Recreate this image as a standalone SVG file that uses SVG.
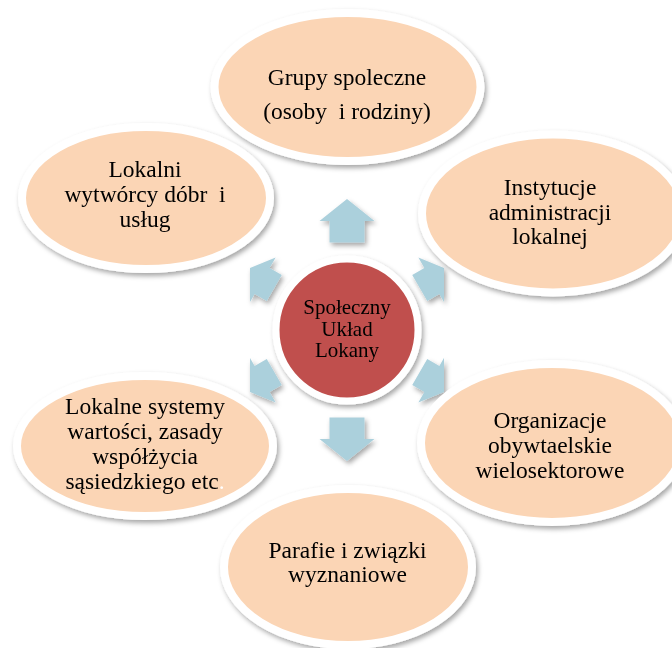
<svg xmlns="http://www.w3.org/2000/svg" width="672" height="648" viewBox="0 0 672 648">
<defs>
<filter id="sh" x="-20%" y="-20%" width="140%" height="140%">
<feDropShadow dx="2" dy="3" stdDeviation="2.5" flood-color="#000" flood-opacity="0.35"/>
</filter>
<path id="arrS" d="M-15,-84 L15,-84 L15,-98 L27,-98 L0,-119 L-27,-98 L-15,-98 Z"/>
<path id="arrL" d="M-17.5,-87.5 L17.5,-87.5 L17.5,-109 L27.5,-109 L0,-131 L-27.5,-109 L-17.5,-109 Z"/>
<clipPath id="clipSide"><rect x="250" y="0" width="194" height="648"/></clipPath>
</defs>
<style>
.arr{fill:#abd0dc}
.oval{fill:#fbd5b5;stroke:#fff;stroke-width:8}
.t{font-family:"Liberation Serif","Times New Roman",serif;font-size:23.5px;fill:#000;text-anchor:middle}
.c{font-family:"Liberation Serif","Times New Roman",serif;font-size:21px;fill:#000;text-anchor:middle}
</style>
<rect width="672" height="648" fill="#fff"/>

<g id="connectors" filter="url(#sh)">
<use href="#arrL" class="arr" transform="translate(347,330)"/>
<use href="#arrL" class="arr" transform="translate(347,330) rotate(180)"/>
<g clip-path="url(#clipSide)">
<use href="#arrS" class="arr" transform="translate(347,330) rotate(60)"/>
<use href="#arrS" class="arr" transform="translate(347,330) rotate(120)"/>
<use href="#arrS" class="arr" transform="translate(347,330) rotate(-60)"/>
<use href="#arrS" class="arr" transform="translate(347,330) rotate(-120)"/>
</g>
</g>

<g id="node-lokalni" filter="url(#sh)">
<ellipse class="oval" cx="146" cy="198" rx="124" ry="71"/>
<text class="t"><tspan x="145" y="177">Lokalni</tspan><tspan x="145" y="202">wytwórcy dóbr&#160; i</tspan><tspan x="145" y="227">usług</tspan></text>
</g>

<g id="node-instytucje" filter="url(#sh)">
<ellipse class="oval" cx="553" cy="213.5" rx="131" ry="79"/>
<text class="t"><tspan x="550" y="195">Instytucje</tspan><tspan x="550" y="220">administracji</tspan><tspan x="550" y="244">lokalnej</tspan></text>
</g>

<g id="node-grupy" filter="url(#sh)">
<ellipse class="oval" cx="347.5" cy="87" rx="133" ry="74"/>
<text class="t"><tspan x="347" y="85">Grupy spoleczne</tspan><tspan x="347" y="119">(osoby&#160; i rodziny)</tspan></text>
</g>

<g id="node-systemy" filter="url(#sh)">
<ellipse class="oval" cx="145" cy="446" rx="128" ry="70"/>
<text class="t"><tspan x="145" y="414">Lokalne systemy</tspan><tspan x="145" y="439">wartości, zasady</tspan><tspan x="145" y="464">współżycia</tspan><tspan x="145" y="489">sąsiedzkiego etc<tspan fill="#fff">.</tspan></tspan></text>
</g>

<g id="node-organizacje" filter="url(#sh)">
<ellipse class="oval" cx="552" cy="443" rx="131" ry="79"/>
<text class="t"><tspan x="550" y="428">Organizacje</tspan><tspan x="550" y="453">obywtaelskie</tspan><tspan x="550" y="478">wielosektorowe</tspan></text>
</g>

<g id="node-parafie" filter="url(#sh)">
<ellipse class="oval" cx="348" cy="567" rx="124" ry="78"/>
<text class="t"><tspan x="347.5" y="558">Parafie i związki</tspan><tspan x="347.5" y="582">wyznaniowe</tspan></text>
</g>

<g id="node-center" filter="url(#sh)">
<circle cx="347" cy="330" r="71" fill="#c0504d" stroke="#fff" stroke-width="7"/>
<text class="c"><tspan x="347" y="314">Społeczny</tspan><tspan x="347" y="336">Układ</tspan><tspan x="347" y="357">Lokany</tspan></text>
</g>
</svg>
